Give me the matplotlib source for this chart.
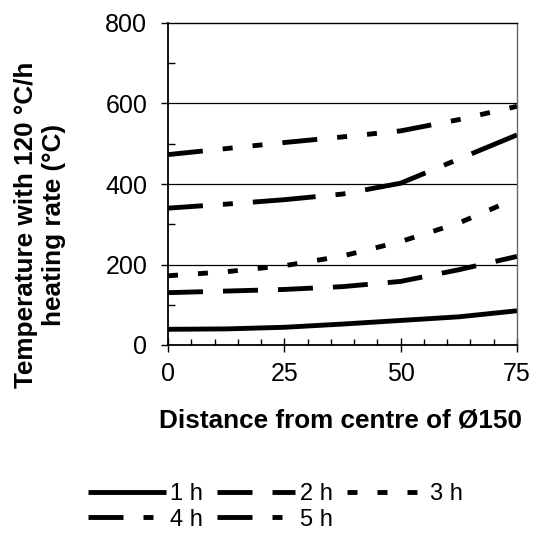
import matplotlib
matplotlib.use("Agg")
import matplotlib.pyplot as plt
from matplotlib.ticker import MultipleLocator

plt.rcParams['font.family'] = ['Liberation Sans', 'DejaVu Sans']
plt.rcParams['lines.scale_dashes'] = False

distance = [0, 12.5, 25, 37.5, 50, 62.5, 75]
t1h = [39, 40, 44, 52, 61, 70, 85]
t2h = [130, 134, 138, 145, 158, 187, 220]
t3h = [172, 182, 197, 221, 257, 303, 365]
t4h = [340, 350, 361, 375, 402, 462, 522]
t5h = [473, 488, 503, 517, 532, 560, 593]
labels = ['1 h', '2 h', '3 h', '4 h', '5 h']

styles = [
    '-',
    (0, (25.2, 14.4)),
    (0, (7.2, 14.4)),
    (20.2, (45.4, 14.4, 7.2, 14.4)),
    (0, (25.2, 14.4, 7.2, 14.4, 7.2, 14.4)),
]

fig = plt.figure(figsize=(5.33, 5.45), dpi=100)
ax = fig.add_axes([168 / 533, 1 - 345 / 545, 349 / 533, 322 / 545])

handles = []
for ys, lab, ls in zip([t1h, t2h, t3h, t4h, t5h], labels, styles):
    h, = ax.plot(distance, ys, color='black', lw=3.5, linestyle=ls,
                 dash_capstyle='butt', solid_capstyle='butt', label=lab)
    handles.append(h)

ax.set_xlim(0, 75)
ax.set_ylim(0, 800)
ax.xaxis.set_major_locator(MultipleLocator(25))
ax.xaxis.set_minor_locator(MultipleLocator(5))
ax.yaxis.set_major_locator(MultipleLocator(200))
ax.yaxis.set_minor_locator(MultipleLocator(100))

for y in [200, 400, 600]:
    ax.axhline(y, color='black', lw=0.9, zorder=0.5)

ax.tick_params(axis='y', which='major', direction='out', length=5, width=1,
               labelsize=18, pad=10)
ax.tick_params(axis='y', which='minor', direction='in', length=5, width=1)
ax.tick_params(axis='x', which='major', direction='inout', length=10, width=1,
               labelsize=18, pad=7)
ax.tick_params(axis='x', which='minor', direction='in', length=4, width=1)

for s in ['left', 'bottom']:
    ax.spines[s].set_linewidth(1.3)
ax.spines['top'].set_linewidth(1.0)
ax.spines['right'].set_linewidth(1.0)
ax.spines['right'].set_color('#666666')

ax.set_xlabel('Distance from centre of Ø150', fontsize=18.8, fontweight='bold',
              va='top')
ax.xaxis.set_label_coords(0.494, -0.198)
ax.set_ylabel('Temperature with 120 °C/h\nheating rate (°C)', fontsize=18.8,
              fontweight='bold', va='center', linespacing=1.25)
ax.yaxis.set_label_coords(-0.367, 0.373)

order = [0, 3, 1, 4, 2]
fig.legend([handles[i] for i in order], [labels[i] for i in order],
           loc='center', bbox_to_anchor=(0.516, 0.07), ncol=3, frameon=False,
           fontsize=17, handlelength=3.3, handletextpad=0.2,
           columnspacing=0.6, labelspacing=0.15, borderaxespad=0)

fig.savefig('out.png', dpi=100)
